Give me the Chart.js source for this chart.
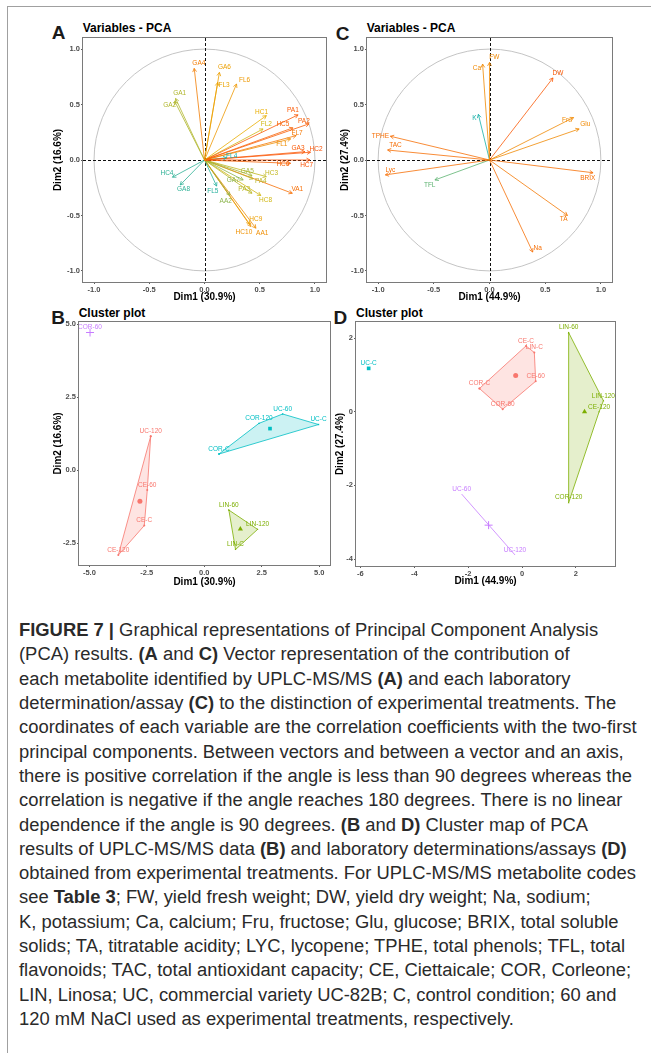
<!DOCTYPE html>
<html>
<head>
<meta charset="utf-8">
<script src="https://cdn.jsdelivr.net/npm/chart.js@4.4.1/dist/chart.umd.min.js"></script>
<style>
  body { margin:0; background:#fff; width:651px; height:1053px; position:relative; overflow:hidden;
         font-family:"Liberation Sans", Arial, Helvetica, sans-serif; }
  .edge-top  { position:absolute; left:7px; top:6px; width:644px; border-top:1px solid #a0a0a0; }
  .edge-left { position:absolute; left:7px; top:6px; height:1047px; border-left:1px solid #a0a0a0; }
  canvas { position:absolute; }
  .letter { position:absolute; font-weight:bold; font-size:19px; line-height:19px; color:#1a1a1a; }
  .ptitle { position:absolute; font-weight:bold; font-size:12px; line-height:12px; color:#000; white-space:nowrap; }
  #caption { position:absolute; left:19px; top:619.4px; font-size:15px; line-height:24.3px; color:#2a2a2a; white-space:nowrap; }
  #caption div { height:24.3px; }
</style>
</head>
<body>
<div class="edge-top"></div>
<div class="edge-left"></div>

<div class="letter" style="left:51.7px;top:23.2px">A</div>
<div class="ptitle" style="left:82.7px;top:22.1px">Variables - PCA</div>
<div class="letter" style="left:335.7px;top:23.9px">C</div>
<div class="ptitle" style="left:366.7px;top:22.1px">Variables - PCA</div>
<div class="letter" style="left:51.3px;top:307.9px">B</div>
<div class="ptitle" style="left:78.7px;top:306.8px">Cluster plot</div>
<div class="letter" style="left:333.6px;top:308.2px">D</div>
<div class="ptitle" style="left:356px;top:307.3px">Cluster plot</div>

<canvas id="chartA"></canvas>
<canvas id="chartC"></canvas>
<canvas id="chartB"></canvas>
<canvas id="chartD"></canvas>

<div id="caption">
  <div><b>FIGURE 7 |</b> Graphical representations of Principal Component Analysis</div>
  <div>(PCA) results. <b>(A</b> and <b>C)</b> Vector representation of the contribution of</div>
  <div>each metabolite identified by UPLC-MS/MS <b>(A)</b> and each laboratory</div>
  <div>determination/assay <b>(C)</b> to the distinction of experimental treatments. The</div>
  <div><span id="ln5">coordinates of each variable are the correlation coefficients with the two-first</span></div>
  <div>principal components. Between vectors and between a vector and an axis,</div>
  <div>there is positive correlation if the angle is less than 90 degrees whereas the</div>
  <div>correlation is negative if the angle reaches 180 degrees. There is no linear</div>
  <div>dependence if the angle is 90 degrees. <b>(B</b> and <b>D)</b> Cluster map of PCA</div>
  <div>results of UPLC-MS/MS data <b>(B)</b> and laboratory determinations/assays <b>(D)</b></div>
  <div>obtained from experimental treatments. For UPLC-MS/MS metabolite codes</div>
  <div>see <b>Table 3</b>; FW, yield fresh weight; DW, yield dry weight; Na, sodium;</div>
  <div>K, potassium; Ca, calcium; Fru, fructose; Glu, glucose; BRIX, total soluble</div>
  <div>solids; TA, titratable acidity; LYC, lycopene; TPHE, total phenols; TFL, total</div>
  <div>flavonoids; TAC, total antioxidant capacity; CE, Ciettaicale; COR, Corleone;</div>
  <div>LIN, Linosa; UC, commercial variety UC-82B; C, control condition; 60 and</div>
  <div>120 mM NaCl used as experimental treatments, respectively.</div>
</div>

<script>
// ── Panel A: variables (UPLC-MS/MS metabolites) ──
const namesA = ['GA4','GA6','FL3','FL6','GA1','GA2','HC1','PA1','PA2','HC5','FL2','FL7','FL1','GA3','HC2','HC7',
                'HC6','FL4','GA5','HC3','PA4','GA7','PA3','HC8','VA1','AA2','FL5','HC9','HC10','AA1','HC4','GA8'];
const dim1A = [-0.093,0.135,0.12,0.29,-0.262,-0.27,0.56,0.847,0.946,0.80,0.53,0.83,0.78,0.91,0.96,0.955,
               0.78,0.20,0.43,0.56,0.44,0.35,0.43,0.51,0.795,0.23,0.11,0.41,0.42,0.465,-0.29,-0.22];
const dim2A = [0.826,0.79,0.70,0.685,0.555,0.53,0.40,0.407,0.326,0.29,0.28,0.22,0.19,0.075,0.07,0.0,
               -0.03,0.02,-0.14,-0.15,-0.17,-0.18,-0.30,-0.32,-0.30,-0.32,-0.235,-0.58,-0.60,-0.615,-0.155,-0.225];
const contribA = [0.78,0.62,0.6,0.65,0.38,0.38,0.55,0.95,0.93,0.9,0.45,0.8,0.7,0.95,0.97,0.97,
                  0.9,0.05,0.35,0.42,0.4,0.3,0.4,0.45,0.85,0.3,0.08,0.62,0.68,0.7,0.1,0.1];
const labXA = [-0.051,0.18,0.177,0.363,-0.225,-0.315,0.516,0.80,0.90,0.71,0.56,0.838,0.70,0.847,1.01,0.925,
               0.71,0.246,0.387,0.607,0.51,0.26,0.36,0.553,0.84,0.192,0.075,0.465,0.357,0.523,-0.34,-0.19];
const labYA = [0.871,0.835,0.676,0.72,0.60,0.495,0.435,0.45,0.354,0.324,0.321,0.24,0.144,0.108,0.096,-0.051,
               -0.04,0.033,-0.10,-0.117,-0.192,-0.186,-0.267,-0.36,-0.261,-0.369,-0.282,-0.537,-0.652,-0.66,-0.117,-0.267];

// ── Panel C: variables (laboratory assays) ──
const namesC = ['Ca','FW','DW','K','Fru','Glu','TPHE','TAC','Lyc','TFL','BRIX','TA','Na'];
const dim1C = [-0.062,0.0,0.57,-0.10,0.755,0.805,-0.89,-0.915,-0.935,-0.49,0.93,0.70,0.388];
const dim2C = [0.865,0.88,0.74,0.412,0.383,0.28,0.214,0.09,-0.134,-0.18,-0.115,-0.50,-0.83];
const contribC = [0.72,0.72,0.95,0.05,0.72,0.72,0.85,0.85,0.85,0.2,0.85,0.8,0.85];
const labXC = [-0.112,0.043,0.614,-0.136,0.695,0.86,-0.979,-0.845,-0.89,-0.537,0.883,0.665,0.432];
const labYC = [0.829,0.925,0.781,0.376,0.361,0.319,0.214,0.13,-0.094,-0.229,-0.166,-0.538,-0.799];

const ticksPCA = [-1, -0.5, 0, 0.5, 1];

// ── Panel B: cluster plot (UPLC-MS/MS) ──
const b1Names = ['UC-120','CE-60','CE-C','CE-120'];
const b1X = [-2.33,-2.48,-2.61,-3.74];
const b1Y = [1.16,-0.685,-1.9,-2.91];
const b1Cen = [-2.8,-1.07];
const b2Names = ['LIN-60','LIN-120','LIN-C'];
const b2X = [1.07,2.32,1.36];
const b2Y = [-1.37,-2.03,-2.72];
const b2Cen = [1.57,-2.02];
const b3Names = ['COR-C','COR-120','UC-60','UC-C'];
const b3X = [0.64,2.38,3.41,4.97];
const b3Y = [0.55,1.6,1.92,1.56];
const b3Cen = [2.86,1.42];
const b4Names = ['COR-60'];
const b4Cen = [-4.97,4.71];
const ticksBx = [-5, -2.5, 0, 2.5, 5];
const ticksBy = [-2.5, 0, 2.5, 5];

// ── Panel D: cluster plot (laboratory assays) ──
const d1Names = ['COR-C','CE-C','LIN-C','CE-60','COR-60'];
const d1X = [-1.58,0.148,0.457,0.507,-0.717];
const d1Y = [0.633,1.79,1.61,0.83,0.072];
const d1Cen = [-0.235,0.986];
const d2Names = ['LIN-60','LIN-120','CE-120','COR-120'];
const d2X = [1.73,3.02,2.86,1.73];
const d2Y = [2.15,0.30,0.0,-2.47];
const d2Cen = [2.32,0.0];
const d3Names = ['UC-C'];
const d3Cen = [-5.69,1.18];
const d4Names = ['UC-60','UC-120'];
const d4X = [-2.24,-0.26];
const d4Y = [-2.235,-3.89];
const d4Cen = [-1.24,-3.08];
const ticksDx = [-6, -4, -2, 0, 2];
const ticksDy = [-4, -2, 0, 2];

// ── Estilos ──
const FONT = "'Liberation Sans', Arial, Helvetica, sans-serif";
Chart.defaults.font.family = FONT;
Chart.defaults.animation = false;
const HUE = ['#F8766D', '#7CAE00', '#00BFC4', '#C77CFF'];

function mix(a, b, s) { return a.map((v, i) => Math.round(v + (b[i] - v) * s)); }
function contribColor(t) {
  const lo = [0,175,187], mid = [231,184,0], hi = [252,78,7];
  const c = t < 0.5 ? mix(lo, mid, t / 0.5) : mix(mid, hi, (t - 0.5) / 0.5);
  return `rgb(${c.join(',')})`;
}
function fade(hex, a) {
  const n = parseInt(hex.slice(1), 16);
  return `rgba(${n >> 16},${(n >> 8) & 255},${n & 255},${a})`;
}

// ── Ejes estilo ggplot ──
function axis(range, ticks, digits, title, size, pad, horizontal) {
  return {
    type: 'linear', min: range[0], max: range[1],
    afterBuildTicks: s => { s.ticks = ticks.map(v => ({ value: v })); },
    afterFit: s => { if (horizontal) s.height = size; else s.width = size; },
    ticks: { callback: v => v.toFixed(digits), font: { size: 7.5, weight: 'bold' }, color: '#4d4d4d',
             padding: 1, maxRotation: 0, autoSkip: false },
    grid: { drawOnChartArea: false, drawTicks: true, tickLength: 2, color: '#333', lineWidth: 0.8 },
    border: { display: false },
    title: { display: true, text: title, font: { size: 10, weight: 'bold' }, color: '#000', padding: pad }
  };
}

const framePlugin = {
  id: 'frame',
  afterDraw(chart) {
    const { ctx, chartArea: a } = chart;
    ctx.save();
    ctx.strokeStyle = '#7a7a7a';
    ctx.lineWidth = 1;
    ctx.strokeRect(Math.round(a.left) - 0.5, Math.round(a.top) - 0.5,
                   Math.round(a.right - a.left) + 1, Math.round(a.bottom - a.top) + 1);
    ctx.restore();
  }
};

function pcaPlugin(names, labX, labY) {
  return {
    id: 'pca',
    beforeDatasetsDraw(chart) {
      const { ctx, chartArea: a, scales: { x, y } } = chart;
      const cx = x.getPixelForValue(0), cy = y.getPixelForValue(0);
      ctx.save();
      ctx.strokeStyle = '#bdbdbd';
      ctx.lineWidth = 0.9;
      ctx.beginPath();
      ctx.ellipse(cx, cy, x.getPixelForValue(1) - cx, cy - y.getPixelForValue(1), 0, 0, 2 * Math.PI);
      ctx.stroke();
      ctx.setLineDash([3, 2]);
      ctx.strokeStyle = '#111';
      ctx.lineWidth = 1;
      ctx.beginPath();
      ctx.moveTo(a.left, Math.round(cy) + 0.5); ctx.lineTo(a.right, Math.round(cy) + 0.5);
      ctx.moveTo(Math.round(cx) + 0.5, a.top); ctx.lineTo(Math.round(cx) + 0.5, a.bottom);
      ctx.stroke();
      ctx.restore();
    },
    afterDatasetsDraw(chart) {
      const { ctx, scales: { x, y } } = chart;
      ctx.save();
      ctx.lineWidth = 0.8;
      ctx.font = `6.5px ${FONT}`;
      ctx.textAlign = 'center';
      ctx.textBaseline = 'middle';
      chart.data.datasets.forEach((ds, i) => {
        const [p0, p1] = chart.getDatasetMeta(i).data;
        const ang = Math.atan2(p1.y - p0.y, p1.x - p0.x);
        ctx.strokeStyle = ds.borderColor;
        ctx.beginPath();
        for (const s of [-1, 1]) {
          ctx.moveTo(p1.x, p1.y);
          ctx.lineTo(p1.x - 4 * Math.cos(ang + s * 0.5), p1.y - 4 * Math.sin(ang + s * 0.5));
        }
        ctx.stroke();
        ctx.fillStyle = ds.borderColor;
        ctx.fillText(names[i], x.getPixelForValue(labX[i]), y.getPixelForValue(labY[i]));
      });
      ctx.restore();
    }
  };
}

const clusterLabels = {
  id: 'clusterLabels',
  afterDatasetsDraw(chart) {
    const ctx = chart.ctx;
    ctx.save();
    ctx.font = `6.5px ${FONT}`;
    ctx.textAlign = 'center';
    ctx.textBaseline = 'middle';
    chart.data.datasets.forEach((ds, i) => {
      if (!ds.names) return;
      const pts = chart.getDatasetMeta(i).data;
      ctx.fillStyle = ds.borderColor;
      ds.names.forEach((n, j) => ctx.fillText(n, pts[j].x, pts[j].y - 5));
    });
    ctx.restore();
  }
};

// ── Datasets ──
function arrows(d1, d2, contrib) {
  return d1.map((v, i) => ({
    type: 'line',
    data: [{ x: 0, y: 0 }, { x: v, y: d2[i] }],
    borderColor: contribColor(contrib[i]),
    borderWidth: 0.8,
    pointRadius: 0
  }));
}
function hull(names, xs, ys, col, style) {
  const pts = xs.map((v, i) => ({ x: v, y: ys[i] }));
  const closed = pts.length > 2 ? pts.concat([pts[0]]) : pts;
  return {
    type: 'line', data: closed, names,
    borderColor: col, backgroundColor: fade(col, 0.2), borderWidth: 0.8,
    fill: pts.length > 2 ? 'shape' : false, tension: 0,
    pointRadius: 1, pointStyle: style, pointBackgroundColor: col, pointBorderColor: col, pointBorderWidth: 0
  };
}
function centre(c, col, style, r, names) {
  return {
    type: 'line', data: [{ x: c[0], y: c[1] }], names, showLine: false,
    borderColor: col, pointRadius: r, pointStyle: style,
    pointBackgroundColor: col, pointBorderColor: col, pointBorderWidth: style === 'cross' ? 1 : 0
  };
}

// ── Construcción de paneles ──
function panel(id, geo, datasets, xr, yr, xt, yt, digits, xTitle, yTitle, extra) {
  const [bl, bt, bw, bh] = geo.box;
  const [al, at, ar, ab] = geo.area;
  const cv = document.getElementById(id);
  cv.width = bw; cv.height = bh;
  cv.style.left = bl + 'px'; cv.style.top = bt + 'px';
  return new Chart(cv, {
    type: 'scatter',
    data: { datasets },
    options: {
      responsive: false,
      events: [],
      layout: { padding: { left: 0, top: at - bt, right: bl + bw - ar, bottom: 0 } },
      plugins: { legend: { display: false }, tooltip: { enabled: false } },
      scales: {
        x: axis(xr, xt, digits, xTitle, bt + bh - ab, { top: 0, bottom: bt + bh - 6 - geo.xTitle }, true),
        y: axis(yr, yt, digits, yTitle, al - bl, { top: geo.yTitle - bl - 6, bottom: 0 }, false)
      }
    },
    plugins: extra.concat([framePlugin])
  });
}

panel('chartA', { box: [40, 30, 290, 276], area: [83, 38, 326, 282], yTitle: 58, xTitle: 297 },
  arrows(dim1A, dim2A, contribA), [-1.1, 1.1], [-1.1, 1.1], ticksPCA, ticksPCA, 1,
  'Dim1 (30.9%)', 'Dim2 (16.6%)', [pcaPlugin(namesA, labXA, labYA)]);

panel('chartC', { box: [330, 30, 290, 276], area: [367, 38, 612, 282], yTitle: 345, xTitle: 297.5 },
  arrows(dim1C, dim2C, contribC), [-1.1, 1.1], [-1.1, 1.1], ticksPCA, ticksPCA, 1,
  'Dim1 (44.9%)', 'Dim2 (27.4%)', [pcaPlugin(namesC, labXC, labYC)]);

panel('chartB', { box: [40, 315, 295, 276], area: [79, 322, 330, 565], yTitle: 58, xTitle: 582 },
  [
    hull(b1Names, b1X, b1Y, HUE[0], 'circle'), centre(b1Cen, HUE[0], 'circle', 2.5),
    hull(b2Names, b2X, b2Y, HUE[1], 'triangle'), centre(b2Cen, HUE[1], 'triangle', 3),
    hull(b3Names, b3X, b3Y, HUE[2], 'rect'), centre(b3Cen, HUE[2], 'rect', 2.6),
    centre(b4Cen, HUE[3], 'cross', 4, b4Names)
  ],
  [-5.45, 5.47], [-3.25, 5.07], ticksBx, ticksBy, 1, 'Dim1 (30.9%)', 'Dim2 (16.6%)', [clusterLabels]);

panel('chartD', { box: [330, 315, 295, 276], area: [356, 322, 615, 566], yTitle: 340, xTitle: 581 },
  [
    hull(d1Names, d1X, d1Y, HUE[0], 'circle'), centre(d1Cen, HUE[0], 'circle', 2.5),
    hull(d2Names, d2X, d2Y, HUE[1], 'triangle'), centre(d2Cen, HUE[1], 'triangle', 3),
    centre(d3Cen, HUE[2], 'rect', 2.6, d3Names),
    hull(d4Names, d4X, d4Y, HUE[3], 'cross'), centre(d4Cen, HUE[3], 'cross', 4)
  ],
  [-6.16, 3.45], [-4.19, 2.44], ticksDx, ticksDy, 0, 'Dim1 (44.9%)', 'Dim2 (27.4%)', [clusterLabels]);

// ── Ajuste del tamaño del pie de figura (ancho de la línea 5 = 618 px, primera línea base en 636.7) ──
const caption = document.getElementById('caption');
const w5 = document.getElementById('ln5').getBoundingClientRect().width;
const fs = 15 * 618 / w5;
caption.style.fontSize = fs.toFixed(2) + 'px';
caption.style.top = (636.7 - (12.15 + 0.3465 * fs)).toFixed(2) + 'px';
</script>
</body>
</html>
